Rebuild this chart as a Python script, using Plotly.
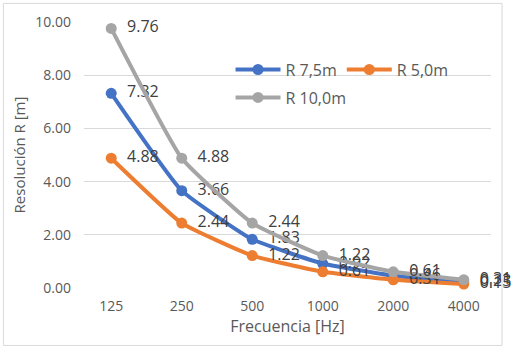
import plotly.graph_objects as go

freqs = ["125", "250", "500", "1000", "2000", "4000"]
r75 = [7.32, 3.66, 1.83, 0.92, 0.46, 0.23]
r50 = [4.88, 2.44, 1.22, 0.61, 0.31, 0.15]
r100 = [9.76, 4.88, 2.44, 1.22, 0.61, 0.31]

series = [
    ("R 7,5m", r75, "#4472C4", "legend"),
    ("R 5,0m", r50, "#ED7D31", "legend"),
    ("R 10,0m", r100, "#A5A5A5", "legend2"),
]

font_family = "Open Sans, Liberation Sans, sans-serif"

fig = go.Figure()
for name, vals, color, lg in series:
    fig.add_trace(go.Scatter(
        x=freqs, y=vals, name=name, legend=lg,
        mode="lines+markers+text",
        line=dict(color=color, width=4, shape="spline", smoothing=0.4),
        marker=dict(color=color, size=11),
        text=["\u2002" + f"{v:.2f}" for v in vals],
        textposition="middle right",
        textfont=dict(size=16, color="#404040", family=font_family),
        cliponaxis=False,
    ))

fig.update_layout(
    width=511, height=351,
    margin=dict(l=84, r=20, t=22, b=63),
    paper_bgcolor="white", plot_bgcolor="white",
    font=dict(family=font_family, color="#595959"),
    showlegend=True,
    legend=dict(
        orientation="h", x=0.36, y=0.885, xanchor="left", yanchor="top",
        font=dict(size=16, color="#595959"), itemwidth=45,
        bgcolor="rgba(0,0,0,0)", tracegroupgap=0,
    ),
    legend2=dict(
        orientation="h", x=0.36, y=0.78, xanchor="left", yanchor="top",
        font=dict(size=16, color="#595959"), itemwidth=45,
        bgcolor="rgba(0,0,0,0)",
    ),
    xaxis=dict(
        type="category", showgrid=False, zeroline=False, showline=False,
        ticks="", tickfont=dict(size=14, color="#595959"), ticklabelstandoff=8,
        title=dict(text="Frecuencia [Hz]", font=dict(size=16, color="#595959"), standoff=2),
    ),
    yaxis=dict(
        range=[0, 10], dtick=2, tickformat=".2f",
        showgrid=True, gridcolor="#D9D9D9", gridwidth=1,
        zeroline=False, showline=False, ticks="",
        tickfont=dict(size=14, color="#595959"), ticklabelstandoff=12,
        title=dict(text="Resolución R [m]", font=dict(size=15, color="#595959"), standoff=6),
    ),
    shapes=[dict(type="rect", xref="paper", yref="paper",
                 x0=-0.198, x1=1.027, y0=-0.216, y1=1.07,
                 line=dict(color="#D9D9D9", width=1))],
)

fig.write_html("out.html")
